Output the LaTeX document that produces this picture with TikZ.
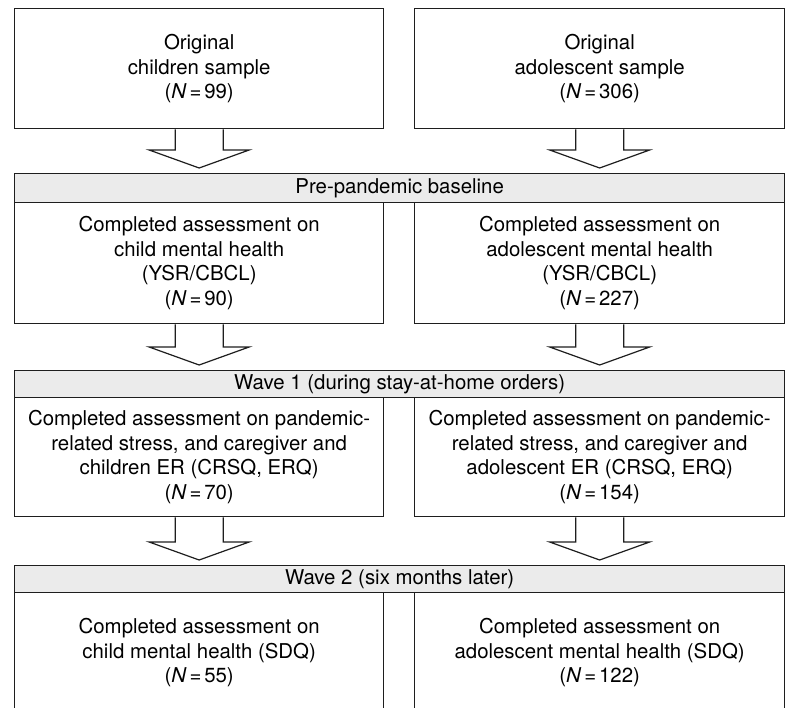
\documentclass[tikz,border=0pt]{standalone}
\usepackage{fontspec}
\setmainfont{TeX Gyre Heros}
\usetikzlibrary{calc}
\definecolor{linec}{HTML}{1E1E1E}
\definecolor{bandgray}{HTML}{EBEBEB}
\tikzset{
  box/.style={draw=linec, line width=1.3pt, fill=white, align=center, inner sep=0pt,
    font=\fontsize{20.4}{24.5}\selectfont, anchor=north west, text=black},
  band/.style={box, fill=bandgray, minimum width=770pt},
  barrow/.style={draw=linec, line width=1.2pt, fill=white, line join=miter}
}
\newcommand\blockarr[2]{%
  \draw[barrow] let \p1=(#1.south), \p2=(#2.north) in
    (\x1-24pt,\y1) -- (\x1-24pt,\y2+23pt) -- (\x1-50pt,\y2+23pt) -- (\x1,\y2+5pt)
    -- (\x1+50pt,\y2+23pt) -- (\x1+24pt,\y2+23pt) -- (\x1+24pt,\y1);%
}
\newcommand\NN{\textit{N}\hspace{0.14em}=\hspace{0.14em}}
\begin{document}
\begin{tikzpicture}[x=1pt,y=-1pt]
\useasboundingbox (0,0) rectangle (789,708);
\clip (0,0) rectangle (789,708);
\fill[white] (0,0) rectangle (789,708);
% top boxes
\node[box, minimum width=369pt, minimum height=120pt] (c0) at (14,8) {Original\\children sample\\(\NN 99)};
\node[box, minimum width=370pt, minimum height=120pt] (a0) at (414,8) {Original\\adolescent sample\\(\NN 306)};
% band 1
\node[band, minimum height=29pt] (b1) at (14,173) {Pre-pandemic baseline};
\node[box, minimum width=369pt, minimum height=121pt] (c1) at (14,202) {Completed assessment on\\child mental health\\(YSR/CBCL)\\(\NN 90)};
\node[box, minimum width=370pt, minimum height=121pt] (a1) at (414,202) {Completed assessment on\\adolescent mental health\\(YSR/CBCL)\\(\NN 227)};
% band 2
\node[band, minimum height=27pt] (b2) at (14,370) {Wave 1 (during stay-at-home orders)};
\node[box, minimum width=369pt, minimum height=119pt] (c2) at (14,397) {Completed assessment on pandemic-\\related stress, and caregiver and\\children ER (CRSQ, ERQ)\\(\NN 70)};
\node[box, minimum width=370pt, minimum height=119pt] (a2) at (414,397) {Completed assessment on pandemic-\\related stress, and caregiver and\\adolescent ER (CRSQ, ERQ)\\(\NN 154)};
% band 3
\node[band, minimum height=27pt] (b3) at (14,565) {Wave 2 (six months later)};
\node[box, minimum width=369pt, minimum height=120pt] (c3) at (14,592) {Completed assessment on\\child mental health (SDQ)\\(\NN 55)};
\node[box, minimum width=370pt, minimum height=120pt] (a3) at (414,592) {Completed assessment on\\adolescent mental health (SDQ)\\(\NN 122)};
% block arrows
\blockarr{c0}{b1}
\blockarr{a0}{b1}
\blockarr{c1}{b2}
\blockarr{a1}{b2}
\blockarr{c2}{b3}
\blockarr{a2}{b3}
\end{tikzpicture}
\end{document}
